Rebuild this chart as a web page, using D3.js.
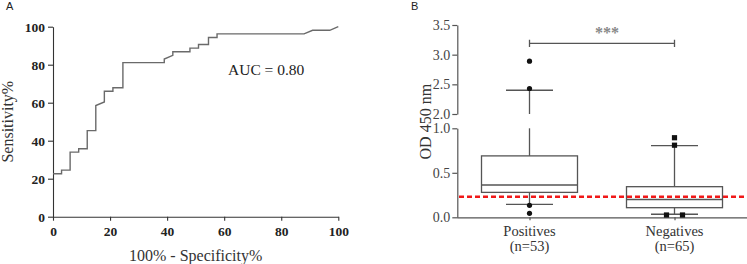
<!DOCTYPE html>
<html><head><meta charset="utf-8">
<script src="https://cdn.jsdelivr.net/npm/d3@7"></script>
<style>html,body{margin:0;padding:0;background:#fff;} svg{display:block;}</style>
</head><body>
<svg id="c" width="747" height="264"></svg>
<script>
// ---- Panel A data: ROC curve (100% - specificity, sensitivity) ----
const rocFpr = [0,3,3,6,6,9,9,12,12,15,15,18,18,21,21,24.5,24.5,39,39,42,42,48,48,51,51,54.5,54.5,57.5,57.5,88,91,97,100];
const rocTpr = [22.6,22.6,24.5,24.5,34,34,35.8,35.8,45.3,45.3,58.5,60.4,66,66,67.9,67.9,81.1,81.1,83,84.9,86.8,86.8,88.7,88.7,90.6,90.6,94.3,94.3,96.2,96.2,98.1,98.1,100];
const rocTicks = [0,20,40,60,80,100];
const aucLabel = "AUC = 0.80";

// ---- Panel B data: box plots ----
const groups = ["Positives","Negatives"];
const groupN = ["(n=53)","(n=65)"];
const q1 = [0.28, 0.108];
const median = [0.363, 0.20];
const q3 = [0.69, 0.344];
const whiskerLow = [0.146, 0.034];
const whiskerHigh = [2.40, 0.805];
const outliersPos = [2.89, 2.43, 0.135, 0.045];
const outliersNeg = [0.894, 0.81, 0.026, 0.026];
const cutoff = 0.231;
const lowTicks = [0, 0.5, 1.0];
const highTicks = [2.0, 2.5, 3.0, 3.5];
const sigLabel = "***";
const sigLevel = 3.19;

const svg = d3.select("#c");
const serif = "'Liberation Serif','Times New Roman',serif";
const sans = "'Liberation Sans',Arial,sans-serif";

// ================= Panel A =================
const xA = d3.scaleLinear().domain([0,100]).range([53,338.3]);
const yA = d3.scaleLinear().domain([0,100]).range([216.7,26.7]);
const gA = svg.append("g");

const axA = gA.append("g").attr("transform","translate(0,216.7)")
  .call(d3.axisBottom(xA).tickValues(rocTicks).tickSize(4).tickPadding(6).tickSizeOuter(0));
const ayA = gA.append("g").attr("transform","translate(53,0)")
  .call(d3.axisLeft(yA).tickValues(rocTicks).tickSize(5).tickPadding(3).tickSizeOuter(0));
[axA, ayA].forEach(a=>{
  a.select(".domain").attr("stroke","#333").attr("stroke-width",1.1);
  a.selectAll(".tick line").attr("stroke","#333").attr("stroke-width",1.1);
  a.selectAll(".tick text").attr("fill","#222").style("font-family",serif)
    .style("font-size","13.5px").style("font-weight","bold");
});

gA.append("path")
  .datum(rocFpr.map((x,i)=>[x,rocTpr[i]]))
  .attr("fill","none").attr("stroke","#6a6a6a").attr("stroke-width",1.4)
  .attr("d", d3.line().x(d=>xA(d[0])).y(d=>yA(d[1])));

gA.append("text").attr("x",228).attr("y",75).text(aucLabel)
  .attr("fill","#222").style("font-family",serif).style("font-size","15.5px");
gA.append("text").attr("x",(53+338.3)/2).attr("y",261).attr("text-anchor","middle")
  .text("100% - Specificity%").attr("fill","#333").style("font-family",serif).style("font-size","16px");
gA.append("text").attr("transform","translate(13,121.7) rotate(-90)").attr("text-anchor","middle")
  .text("Sensitivity%").attr("fill","#333").style("font-family",serif).style("font-size","16px");
gA.append("text").attr("x",6).attr("y",10).text("A").attr("fill","#222")
  .style("font-family",sans).style("font-size","11px");

// ================= Panel B =================
const gB = svg.append("g");
const line = "#555";
const xB = d3.scalePoint().domain(groups).range([457,747]).padding(0.5);
const yLow = d3.scaleLinear().domain([0,1]).range([217.3,128.3]);
const yHigh = d3.scaleLinear().domain([2,3.5]).range([114,25]);
const yB = v => v <= 1.5 ? yLow(v) : yHigh(v);
const boxW = 96, capW = 47;

const ayLow = gB.append("g").attr("transform","translate(457.3,0)")
  .call(d3.axisLeft(yLow).tickValues(lowTicks).tickFormat(d3.format(".1f")).tickSize(5).tickPadding(2).tickSizeOuter(0));
const ayHigh = gB.append("g").attr("transform","translate(457.3,0)")
  .call(d3.axisLeft(yHigh).tickValues(highTicks).tickFormat(d3.format(".1f")).tickSize(5).tickPadding(2).tickSizeOuter(0));
const axB = gB.append("g").attr("transform","translate(0,217.3)")
  .call(d3.axisBottom(xB).tickSize(3).tickSizeOuter(0).tickFormat(""));
axB.select(".domain").attr("d","M457.3,0.5H747");
[ayLow, ayHigh, axB].forEach(a=>{
  a.select(".domain").attr("stroke",line).attr("stroke-width",1.2);
  a.selectAll(".tick line").attr("stroke",line).attr("stroke-width",1.2);
  a.selectAll(".tick text").attr("fill","#444").style("font-family",serif).style("font-size","14px");
});

// category labels
groups.forEach((g,i)=>{
  gB.append("text").attr("x",xB(g)).attr("y",236).attr("text-anchor","middle").text(g)
    .attr("fill","#333").style("font-family",serif).style("font-size","14.5px");
  gB.append("text").attr("x",xB(g)).attr("y",251).attr("text-anchor","middle").text(groupN[i])
    .attr("fill","#333").style("font-family",serif).style("font-size","14.5px");
});

gB.append("text").attr("transform","translate(431,121.7) rotate(-90)").attr("text-anchor","middle")
  .text("OD 450 nm").attr("fill","#333").style("font-family",serif).style("font-size","16px");
gB.append("text").attr("x",411).attr("y",10).text("B").attr("fill","#222")
  .style("font-family",sans).style("font-size","11px");

// boxes
groups.forEach((g,i)=>{
  const cx = xB(g);
  const seg = (x1,y1,x2,y2)=>gB.append("line").attr("x1",x1).attr("y1",y1).attr("x2",x2).attr("y2",y2)
    .attr("stroke",line).attr("stroke-width",1.3);
  // lower whisker
  seg(cx,yB(q1[i]),cx,yB(whiskerLow[i]));
  seg(cx-capW/2,yB(whiskerLow[i]),cx+capW/2,yB(whiskerLow[i]));
  // upper whisker (with axis break)
  if (whiskerHigh[i] > 1.5) {
    seg(cx,yB(q3[i]),cx,yLow(1));
    seg(cx,yHigh(2),cx,yB(whiskerHigh[i]));
  } else {
    seg(cx,yB(q3[i]),cx,yB(whiskerHigh[i]));
  }
  seg(cx-capW/2,yB(whiskerHigh[i]),cx+capW/2,yB(whiskerHigh[i]));
  gB.append("rect").attr("x",cx-boxW/2).attr("y",yB(q3[i])).attr("width",boxW)
    .attr("height",yB(q1[i])-yB(q3[i])).attr("fill","none").attr("stroke",line).attr("stroke-width",1.3);
  seg(cx-boxW/2,yB(median[i]),cx+boxW/2,yB(median[i]));
});

// outliers
const spread = arr => arr.map((v,i)=>{
  const same = arr.filter(w=>w===v).length;
  if (same<2) return 0;
  const k = arr.slice(0,i).filter(w=>w===v).length;
  return (k - (same-1)/2) * 16;
});
const offP = spread(outliersPos);
outliersPos.forEach((v,i)=>{
  gB.append("circle").attr("cx",xB(groups[0])+offP[i]).attr("cy",yB(v)).attr("r",2.6).attr("fill","#111");
});
const offN = spread(outliersNeg);
outliersNeg.forEach((v,i)=>{
  gB.append("rect").attr("x",xB(groups[1])+offN[i]-2.6).attr("y",yB(v)-2.6)
    .attr("width",5.2).attr("height",5.2).attr("fill","#111");
});

// cutoff line
gB.append("line").attr("x1",459).attr("x2",747).attr("y1",yB(cutoff)).attr("y2",yB(cutoff))
  .attr("stroke","#f01818").attr("stroke-width",2.6).attr("stroke-dasharray","5,3");

// significance bracket
const by = yHigh(sigLevel);
const x1 = xB(groups[0]), x2 = xB(groups[1]);
gB.append("path").attr("d",`M${x1},${by}H${x2}M${x1},${by-3.7}V${by+3.7}M${x2},${by-3.7}V${by+3.7}`)
  .attr("fill","none").attr("stroke",line).attr("stroke-width",1.3);
gB.append("text").attr("x",(x1+x2)/2+5).attr("y",by-5).attr("text-anchor","middle").text(sigLabel)
  .attr("fill","#888").style("font-family",serif).style("font-size","16px").style("font-weight","bold");
</script>
</body></html>
